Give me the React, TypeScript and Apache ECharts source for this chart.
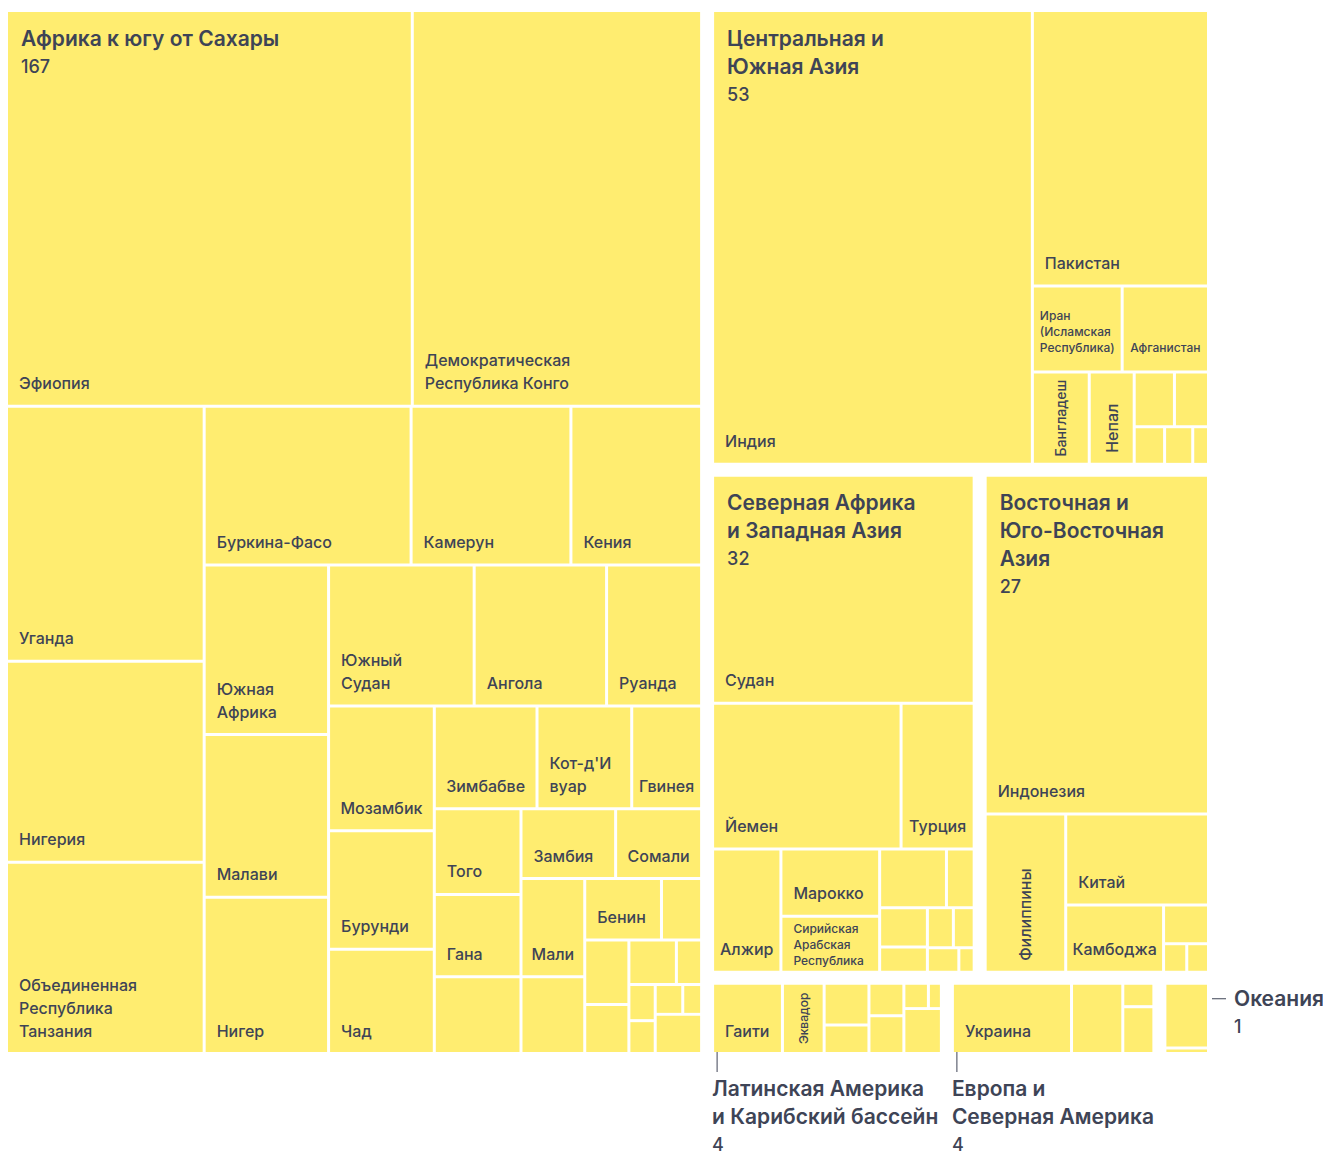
import React, { useEffect, useRef } from "react";
import * as echarts from "echarts";

// ---------------- DATA ----------------
const groupNames = [
  "Африка к югу от Сахары",
  "Центральная и\nЮжная Азия",
  "Северная Африка\nи Западная Азия",
  "Восточная и\nЮго-Восточная\nАзия",
  "Латинская Америка\nи Карибский бассейн",
  "Европа и\nСеверная Америка",
  "Океания",
];
const groupTotals = [167, 53, 32, 27, 4, 4, 1];

const africaNames = [
  "Эфиопия", "Демократическая\nРеспублика Конго", "Уганда", "Нигерия",
  "Объединенная\nРеспублика\nТанзания", "Буркина-Фасо", "Камерун", "Кения",
  "Южная\nАфрика", "Малави", "Нигер", "Южный\nСудан", "Ангола", "Руанда",
  "Мозамбик", "Бурунди", "Чад", "Зимбабве", "Кот-д'И\nвуар", "Гвинея", "Того",
  "Гана", "", "Замбия", "Сомали", "Мали", "", "Бенин", "", "", "", "", "", "", "", "", "", "",
];
const africaValues = [
  37.14, 26.48, 11.66, 9.19, 8.75, 7.6, 5.87, 4.8, 4.88, 4.68, 4.5, 4.75, 4.32, 3.1,
  3.05, 2.9, 2.55, 2.44, 2.25, 1.66, 1.72, 1.65, 1.54, 1.53, 1.39, 1.45, 1.13, 1.09,
  0.57, 0.66, 0.5, 0.49, 0.26, 0.22, 0.2, 0.19, 0.13, 0.42,
];

const centralSouthAsiaNames = [
  "Индия", "Пакистан", "Иран\n(Исламская\nРеспублика)", "Афганистан", "Бангладеш",
  "Непал", "", "", "", "", "",
];
const centralSouthAsiaValues = [34.24, 11.45, 1.82, 1.75, 1.24, 0.98, 0.52, 0.44, 0.27, 0.25, 0.14];

const northAfricaWestAsiaNames = [
  "Судан", "Йемен", "Турция", "Алжир", "Марокко", "Сирийская\nАрабская\nРеспублика",
  "", "", "", "", "", "", "", "",
];
const northAfricaWestAsiaValues = [
  14.3, 6.6, 2.56, 2.02, 1.59, 1.33, 0.94, 0.39, 0.45, 0.29, 0.25, 0.2, 0.185, 0.09,
];

const eastSouthEastAsiaNames = ["Индонезия", "Филиппины", "Китай", "Камбоджа", "", "", ""];
const eastSouthEastAsiaValues = [18.28, 3.08, 3.14, 1.59, 0.42, 0.16, 0.15];

const latinAmericaNames = ["Гаити", "Эквадор", "", "", "", "", "", "", ""];
const latinAmericaValues = [1.34, 0.8, 0.51, 0.35, 0.31, 0.36, 0.17, 0.09, 0.46];

const europeNorthAmericaNames = ["Украина", "", "", ""];
const europeNorthAmericaValues = [2.3, 0.99, 0.2, 0.4];

const oceaniaNames = ["", ""];
const oceaniaValues = [0.92, 0.08];

// ---------------- STYLE ----------------
const YELLOW = "#FFED70";
const TEXT = "#3E4456";
const FONT = "Inter, 'Noto Sans', sans-serif";
const BOX = { x: 8, y: 12, w: 1199, h: 1040 };
const OUTER_GAP = 14;
const INNER_GAP = 3;
const TOP_RATIO = 1.3;
const INNER_RATIO = 1;

type R = { x: number; y: number; w: number; h: number };

function squarify(values: number[], x: number, y: number, w: number, h: number, ratio: number): R[] {
  const n = values.length;
  const rects: R[] = new Array(n);
  let total = values.reduce((a, b) => a + b, 0);
  let i0 = 0;
  while (i0 < n) {
    const horiz = w <= h;
    const L = horiz ? w : h;
    const scale = (w * h) / total;
    const f = L * L * ratio;
    let i1 = i0, sum = 0, mn = Infinity, mx = 0, best = Infinity;
    while (i1 < n) {
      const a = values[i1] * scale;
      const s = sum + a;
      const lo = Math.min(mn, a);
      const hi = Math.max(mx, a);
      const worst = Math.max((f * hi) / (s * s), (s * s) / (f * lo));
      if (worst > best) break;
      best = worst; sum = s; mn = lo; mx = hi; i1++;
    }
    const thick = sum / L;
    let pos = horiz ? x : y;
    let rowVal = 0;
    for (let k = i0; k < i1; k++) {
      const len = (values[k] * scale) / thick;
      rects[k] = horiz ? { x: pos, y, w: len, h: thick } : { x, y: pos, w: thick, h: len };
      pos += len;
      rowVal += values[k];
    }
    if (horiz) { y += thick; h -= thick; } else { x += thick; w -= thick; }
    total -= rowVal;
    i0 = i1;
  }
  return rects;
}

function padded(values: number[], box: R, pad: number, ratio: number): R[] {
  const p = pad / 2;
  return squarify(values, box.x - p, box.y - p, box.w + pad, box.h + pad, ratio).map((r) => ({
    x: r.x + p, y: r.y + p, w: r.w - pad, h: r.h - pad,
  }));
}

let measureCtx: CanvasRenderingContext2D | null = null;
function measure(t: string, size: number, weight = 500) {
  if (!measureCtx) measureCtx = document.createElement("canvas").getContext("2d");
  measureCtx!.font = `${weight} ${size}px Inter`;
  return measureCtx!.measureText(t).width;
}

function leafLabel(name: string, r: R): any | null {
  if (!name) return null;
  const lines = name.split("\n");
  for (const s of [16, 14, 12]) {
    const lh = s >= 16 ? 23 : s >= 14 ? 19 : 16;
    const tw = Math.max(...lines.map((l) => measure(l, s)));
    const th = lines.length * lh;
    if (tw + 10 <= r.w && th + 2 <= r.h) {
      const padL = Math.min(11, (r.w - tw) / 2);
      const padB = Math.min(s >= 16 ? 10 : 15, (r.h - th) / 2);
      return {
        type: "text", x: r.x + padL, y: r.y + r.h - padB,
        style: { text: name, fill: TEXT, fontSize: s, fontFamily: FONT, fontWeight: 500, lineHeight: lh, align: "left", verticalAlign: "bottom" },
      };
    }
    if (r.h > r.w && lines.length === 1 && tw + 12 <= r.h && lh <= r.w) {
      const padB = Math.min(10, (r.h - tw) / 2);
      return {
        type: "text", x: r.x + r.w / 2, y: r.y + r.h - padB, rotation: Math.PI / 2,
        style: { text: name, fill: TEXT, fontSize: s, fontFamily: FONT, fontWeight: 500, lineHeight: lh, align: "left", verticalAlign: "middle" },
      };
    }
  }
  return null;
}

export default function App() {
  const ref = useRef<HTMLDivElement>(null);
  useEffect(() => {
    document.body.style.margin = "0";
    const el = ref.current!;
    const chart = echarts.init(el, null, { renderer: "svg" });

    const groupLeaves = [
      { names: africaNames, values: africaValues },
      { names: centralSouthAsiaNames, values: centralSouthAsiaValues },
      { names: northAfricaWestAsiaNames, values: northAfricaWestAsiaValues },
      { names: eastSouthEastAsiaNames, values: eastSouthEastAsiaValues },
      { names: latinAmericaNames, values: latinAmericaValues },
      { names: europeNorthAmericaNames, values: europeNorthAmericaValues },
      { names: oceaniaNames, values: oceaniaValues },
    ];
    const groupSums = groupLeaves.map((g) => g.values.reduce((a, b) => a + b, 0));
    const groupRects = padded(groupSums, BOX, OUTER_GAP, TOP_RATIO);

    const leaves: { name: string; value: number; rect: R }[] = [];
    groupLeaves.forEach((g, gi) => {
      const rs = padded(g.values, groupRects[gi], INNER_GAP, INNER_RATIO);
      g.values.forEach((v, i) => leaves.push({ name: g.names[i], value: v, rect: rs[i] }));
    });

    const option: any = {
      animation: false,
      backgroundColor: "#ffffff",
      series: [
        {
          type: "custom",
          coordinateSystem: "none",
          silent: true,
          data: leaves.map((l) => ({ name: l.name.replace(/\n/g, " "), value: l.value })),
          renderItem: (params: any) => {
            const l = leaves[params.dataIndex];
            const r = l.rect;
            const children: any[] = [
              { type: "rect", shape: { x: r.x, y: r.y, width: r.w, height: r.h }, style: { fill: YELLOW } },
            ];
            const lab = leafLabel(l.name, r);
            if (lab) children.push(lab);
            return { type: "group", children };
          },
        },
        {
          type: "custom",
          coordinateSystem: "none",
          silent: true,
          data: groupNames.map((n, i) => ({ name: n.replace(/\n/g, " "), value: groupTotals[i] })),
          renderItem: (params: any) => {
            const i = params.dataIndex;
            const g = groupRects[i];
            const name = groupNames[i];
            const nLines = name.split("\n").length;
            const TLH = 28;
            const titleStyle = { fill: TEXT, fontSize: 21, fontFamily: FONT, fontWeight: 600, lineHeight: TLH, align: "left", verticalAlign: "top" };
            const numStyle = { fill: TEXT, fontSize: 18, fontFamily: FONT, fontWeight: 500, lineHeight: 26, align: "left", verticalAlign: "top" };
            const children: any[] = [];
            let tx: number, ty: number;
            if (g.h >= 120) {
              tx = g.x + 13; ty = g.y + 12;
            } else if (g.w >= 100) {
              const lx = g.x + 3;
              children.push({ type: "line", shape: { x1: lx, y1: g.y + g.h, x2: lx, y2: g.y + g.h + 20 }, style: { stroke: TEXT, lineWidth: 1 } });
              tx = g.x - 2; ty = g.y + g.h + 22;
            } else {
              const ly = g.y + 14;
              children.push({ type: "line", shape: { x1: g.x + g.w + 5, y1: ly, x2: g.x + g.w + 19, y2: ly }, style: { stroke: TEXT, lineWidth: 1 } });
              tx = g.x + g.w + 27; ty = g.y;
            }
            children.push({ type: "text", x: tx, y: ty, style: { ...titleStyle, text: name } });
            children.push({ type: "text", x: tx, y: ty + nLines * TLH + 1, style: { ...numStyle, text: String(groupTotals[i]) } });
            return { type: "group", children };
          },
        },
      ],
    };
    chart.setOption(option);
    return () => chart.dispose();
  }, []);
  return <div ref={ref} style={{ width: 1323, height: 1153 }} />;
}
